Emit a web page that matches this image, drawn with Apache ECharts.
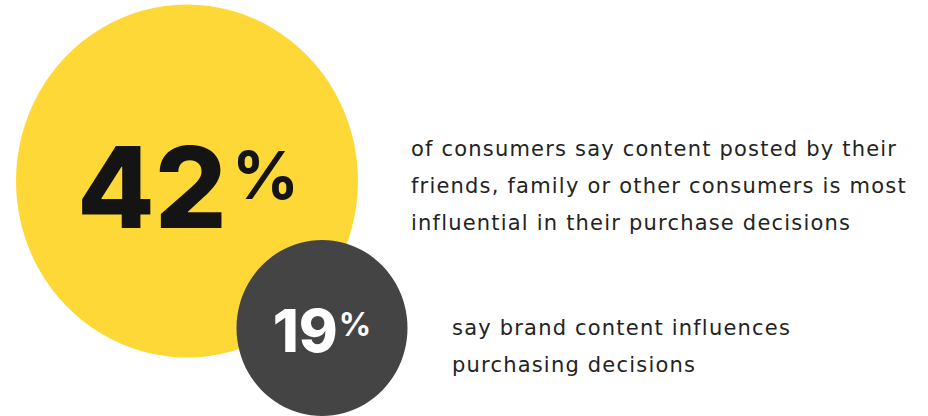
<!DOCTYPE html>
<html>
<head>
<meta charset="utf-8">
<script src="https://cdn.jsdelivr.net/npm/echarts@6/dist/echarts.min.js"></script>
<style>
html,body{margin:0;padding:0;background:#fff;}
#chart{width:928px;height:416px;}
#chart text[fill="#232323"], #chart text[style*="DejaVu"] { letter-spacing: 1.2px; }
</style>
</head>
<body>
<div id="chart"></div>
<script>
// Data
const categories = ['consumer content', 'brand content'];
const values = [42, 19];
const numberLabels = ['42', '19'];
const descriptions = [
  'of consumers say content posted by their\nfriends, family or other consumers is most\ninfluential in their purchase decisions',
  'say brand content influences\npurchasing decisions'
];

const chart = echarts.init(document.getElementById('chart'), null, { renderer: 'svg' });

const circleColors = ['#FED836', '#444444'];
const numColors = ['#141414', '#ffffff'];
const circleSizes = [[342, 353], [171, 176]];
const numFont = [113, 59];
const numLine = [120, 70];
const pctFont = [66, 32];
const pctLine = [66, 34];
const pctPad = [[15, 0, 0, 5], [13, 0, 0, 1]];
const numShift = [[1, 6], [0, 3]];
const descShift = [[224, 5], [130, 19]];

const circleData = values.map((v, i) => ({
  name: categories[i],
  value: [v, v],
  symbolSize: circleSizes[i],
  itemStyle: { color: circleColors[i], opacity: 1 },
  label: {
    show: true,
    position: [circleSizes[i][0] / 2 + numShift[i][0], circleSizes[i][1] / 2 + numShift[i][1]],
    align: 'center',
    verticalAlign: 'middle',
    formatter: '{n|' + numberLabels[i] + '}{p|%}',
    rich: {
      n: { fontFamily: 'Inter', fontWeight: 800, fontSize: numFont[i], color: numColors[i], lineHeight: numLine[i], verticalAlign: 'middle' },
      p: { fontFamily: 'Inter', fontWeight: 700, fontSize: pctFont[i], color: numColors[i], verticalAlign: 'top', lineHeight: pctLine[i], padding: pctPad[i] }
    }
  }
}));

const descData = values.map((v, i) => ({
  name: categories[i],
  value: [v, v],
  label: {
    show: true,
    position: [descShift[i][0], descShift[i][1]],
    align: 'left',
    verticalAlign: 'middle',
    formatter: descriptions[i],
    fontFamily: 'DejaVu Sans',
    fontSize: 21,
    lineHeight: 37,
    color: '#232323'
  }
}));

chart.setOption({
  animation: false,
  grid: { left: 81.35, width: 352.17, top: 129.87, height: 255.65 },
  xAxis: { type: 'value', min: 0, max: 60, inverse: true, show: false },
  yAxis: { type: 'value', min: 10, max: 50, show: false },
  series: [
    { type: 'scatter', symbol: 'circle', data: circleData, z: 2, silent: true },
    { type: 'scatter', symbol: 'circle', symbolSize: 0.01, itemStyle: { color: 'rgba(0,0,0,0)', opacity: 1 }, data: descData, z: 3, silent: true }
  ]
});
</script>
</body>
</html>
